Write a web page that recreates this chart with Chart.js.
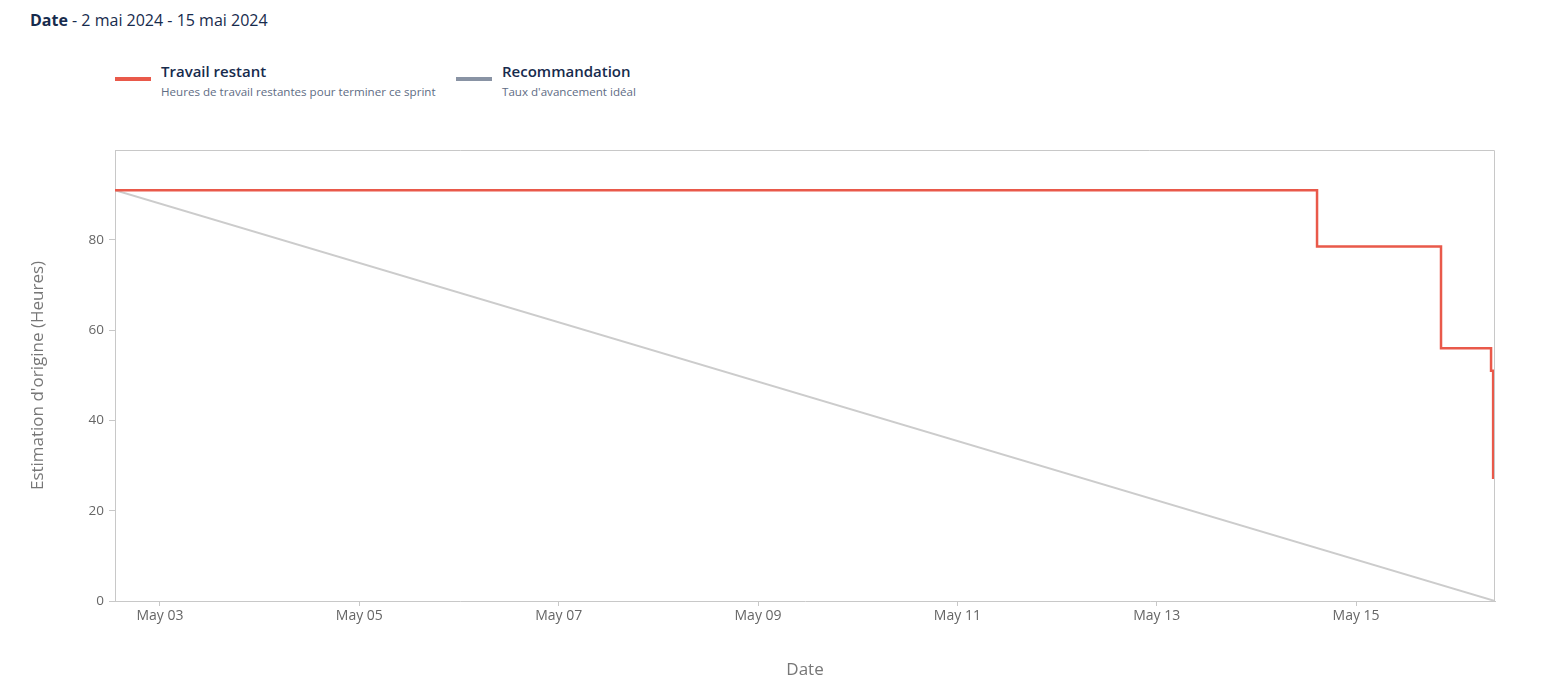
<!DOCTYPE html>
<html>
<head>
<meta charset="utf-8">
<script src="https://cdn.jsdelivr.net/npm/chart.js@4.4.1/dist/chart.umd.min.js"></script>
<style>
    body { margin: 0; background: #fff; font-family: "Open Sans", "Noto Sans", sans-serif; }
    #page { position: relative; width: 1548px; height: 688px; overflow: hidden; }
    .header { position: absolute; left: 30px; top: 9px; font-size: 16px; color: #172B4D; }
    .header b { font-weight: 700; }
    .legend-item { position: absolute; top: 62px; }
    .swatch { position: absolute; top: 15px; width: 36px; height: 4px; }
    .legend-title { position: absolute; white-space: nowrap; font-size: 15px; font-weight: 600; color: #172B4D; top: -1px; }
    .legend-sub { position: absolute; white-space: nowrap; font-size: 11.6px; color: #5E6C84; top: 22px; }
    #chartBox { position: absolute; left: 0; top: 120px; width: 1548px; height: 568px; }
</style>
</head>
<body>
<div id="page">
    <div class="header"><b>Date</b> - 2 mai 2024 - 15 mai 2024</div>

    <div class="legend-item" style="left:115px;">
        <div class="swatch" style="left:0; background:#E9594A;"></div>
        <div class="legend-title" style="left:46px;">Travail restant</div>
        <div class="legend-sub" style="left:46px;">Heures de travail restantes pour terminer ce sprint</div>
    </div>
    <div class="legend-item" style="left:456px;">
        <div class="swatch" style="left:0; background:#8993A4;"></div>
        <div class="legend-title" style="left:46px;">Recommandation</div>
        <div class="legend-sub" style="left:46px;">Taux d'avancement idéal</div>
    </div>

    <div id="chartBox"><canvas id="burndown"></canvas></div>
</div>

<script>
// Sprint window
const sprintStart = "2024-05-02T13:10";
const sprintEnd = "2024-05-16T09:27";

// Remaining work: time of each change and hours remaining after it
const remainingTimes = ["2024-05-02T13:10", "2024-05-14T14:36", "2024-05-15T20:27", "2024-05-16T08:30", "2024-05-16T09:00"];
const remainingHours = [91, 78.5, 56, 51, 27];

// Ideal line: from the starting estimate down to zero
const idealTimes = [sprintStart, sprintEnd];
const idealHours = [91, 0];

// Axis ticks
const xTickDates = ["2024-05-03", "2024-05-05", "2024-05-07", "2024-05-09", "2024-05-11", "2024-05-13", "2024-05-15"];
const xTickLabels = ["May 03", "May 05", "May 07", "May 09", "May 11", "May 13", "May 15"];
const yTicks = [0, 20, 40, 60, 80];

// Days since May 03 00:00, used as the x value
const baseTime = Date.parse("2024-05-03T00:00");
function toDays(s) {
    if (s.length === 10) s = s + "T00:00";
    return (Date.parse(s) - baseTime) / 86400000;
}

const tickDays = xTickDates.map(toDays);
const fontFamily = "'Open Sans', 'Noto Sans', sans-serif";

// Draws the top and right edges of the plot frame
const frameBorder = {
    id: "frameBorder",
    afterDraw(chart) {
        const a = chart.chartArea;
        const ctx = chart.ctx;
        ctx.save();
        ctx.strokeStyle = "#c8c8c8";
        ctx.lineWidth = 1;
        ctx.beginPath();
        ctx.moveTo(Math.round(a.left) + 0.5, Math.round(a.top) + 0.5);
        ctx.lineTo(Math.round(a.right) - 0.5, Math.round(a.top) + 0.5);
        ctx.lineTo(Math.round(a.right) - 0.5, Math.round(a.bottom));
        ctx.stroke();
        ctx.restore();
    }
};

const ctx = document.getElementById("burndown").getContext("2d");

new Chart(ctx, {
    type: "line",
    data: {
        datasets: [
            {
                label: "Travail restant",
                data: remainingTimes.map((t, i) => ({ x: toDays(t), y: remainingHours[i] })),
                borderColor: "#E9594A",
                borderWidth: 2.5,
                pointRadius: 0,
                stepped: "before",
                fill: false,
                order: 0
            },
            {
                label: "Recommandation",
                data: idealTimes.map((t, i) => ({ x: toDays(t), y: idealHours[i] })),
                borderColor: "#cccccc",
                borderWidth: 2,
                pointRadius: 0,
                tension: 0,
                fill: false,
                order: 1
            }
        ]
    },
    options: {
        responsive: true,
        maintainAspectRatio: false,
        animation: false,
        layout: { padding: { left: 0, right: 53, top: 30, bottom: 0 } },
        plugins: {
            legend: { display: false },
            tooltip: { enabled: false }
        },
        scales: {
            x: {
                type: "linear",
                min: toDays(sprintStart),
                max: toDays(sprintEnd),
                afterBuildTicks: (scale) => { scale.ticks = tickDays.map((v) => ({ value: v })); },
                afterFit: (scale) => { scale.height = 87; },
                ticks: {
                    autoSkip: false,
                    maxRotation: 0,
                    padding: 2,
                    color: "#666",
                    font: { family: fontFamily, size: 14 },
                    callback: (value) => {
                        const idx = tickDays.findIndex((d) => Math.abs(d - value) < 1e-6);
                        return idx >= 0 ? xTickLabels[idx] : "";
                    }
                },
                grid: { display: true, drawOnChartArea: false, drawTicks: true, tickLength: 5, color: "#c8c8c8" },
                border: { display: true, color: "#c8c8c8" },
                title: {
                    display: true,
                    text: "Date",
                    color: "#777",
                    padding: { top: 10, bottom: 8 },
                    font: { family: fontFamily, size: 17 }
                }
            },
            y: {
                min: 0,
                max: 99.9,
                afterBuildTicks: (scale) => { scale.ticks = yTicks.map((v) => ({ value: v })); },
                afterFit: (scale) => { scale.width = 115; },
                ticks: {
                    padding: 5,
                    color: "#666",
                    font: { family: fontFamily, size: 13.5 }
                },
                grid: { display: true, drawOnChartArea: false, drawTicks: true, tickLength: 6, color: "#c8c8c8" },
                border: { display: true, color: "#c8c8c8" },
                title: {
                    display: true,
                    text: "Estimation d'origine (Heures)",
                    color: "#777",
                    padding: { top: 28, bottom: 0 },
                    font: { family: fontFamily, size: 17 }
                }
            }
        }
    },
    plugins: [frameBorder]
});
</script>
</body>
</html>
